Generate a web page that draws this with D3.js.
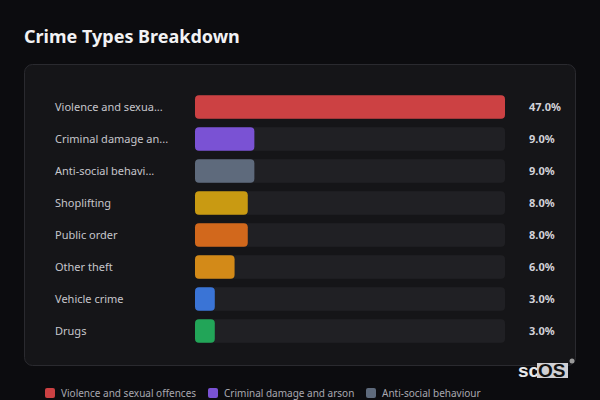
<!DOCTYPE html>
<html>
<head>
<meta charset="utf-8">
<script src="https://cdn.jsdelivr.net/npm/d3@7"></script>
<style>
  html, body { margin: 0; padding: 0; background: #0c0c0f; }
  svg { display: block; }
</style>
</head>
<body>
<svg id="chart" width="600" height="400"></svg>
<script>
const categories = ["Violence and sexual offences", "Criminal damage and arson", "Anti-social behaviour", "Shoplifting", "Public order", "Other theft", "Vehicle crime", "Drugs"];
const shortLabels = ["Violence and sexua...", "Criminal damage an...", "Anti-social behavi...", "Shoplifting", "Public order", "Other theft", "Vehicle crime", "Drugs"];
const values = [47.0, 9.0, 9.0, 8.0, 8.0, 6.0, 3.0, 3.0];
const colors = ["#cc4143", "#7a52d4", "#5e6a7c", "#c99a12", "#d2681c", "#d38a18", "#3a74d6", "#22a558"];
const legendItems = categories.slice(0, 3);

const svg = d3.select("#chart");
const font = "'Noto Sans', 'Open Sans', sans-serif";

svg.append("rect").attr("width", 600).attr("height", 400).attr("fill", "#0c0c0f");

svg.append("text").attr("x", 24).attr("y", 43)
  .attr("font-family", font).attr("font-size", 18).attr("font-weight", 700)
  .attr("fill", "#f2f2f4").text("Crime Types Breakdown");

svg.append("rect").attr("x", 24.5).attr("y", 64.5).attr("width", 551).attr("height", 301)
  .attr("rx", 8).attr("fill", "#151518").attr("stroke", "#2a2a2f");

const x = d3.scaleLinear().domain([0, d3.max(values)]).range([0, 310]);
const y = d3.scaleBand().domain(categories).range([91, 347]).paddingInner(0.27).paddingOuter(0.135);
const x0 = 195;

const rows = svg.append("g").selectAll("g").data(categories).join("g")
  .attr("transform", d => `translate(0,${y(d)})`);

rows.append("rect").attr("x", x0).attr("width", x(d3.max(values))).attr("height", y.bandwidth())
  .attr("rx", 4).attr("fill", "#202024");
rows.append("rect").attr("x", x0).attr("width", (d, i) => x(values[i])).attr("height", y.bandwidth())
  .attr("rx", 4).attr("fill", (d, i) => colors[i]);
rows.append("text").attr("x", 55).attr("y", y.bandwidth() / 2).attr("dy", "0.35em")
  .attr("font-family", font).attr("font-size", 11).attr("fill", "#c6c6cc")
  .text((d, i) => shortLabels[i]);
rows.append("text").attr("x", 529).attr("y", y.bandwidth() / 2).attr("dy", "0.35em")
  .attr("font-family", font).attr("font-size", 11).attr("font-weight", 700).attr("fill", "#d2d2d8")
  .text((d, i) => values[i].toFixed(1) + "%");

// Watermark
const wm = svg.append("g");
wm.append("text").attr("x", 518).attr("y", 377).attr("font-family", "'Liberation Sans', Arial, sans-serif")
  .attr("font-size", 19).attr("font-weight", 700).attr("fill", "#e8e8ea").text("sc");
wm.append("rect").attr("x", 537).attr("y", 363).attr("width", 31).attr("height", 15).attr("fill", "#d0d0d4");
wm.append("text").attr("x", 538).attr("y", 377).attr("font-family", "'Liberation Sans', Arial, sans-serif")
  .attr("font-size", 19).attr("font-weight", 700).attr("fill", "#111").text("OS");
wm.append("circle").attr("cx", 572).attr("cy", 361).attr("r", 2.5).attr("fill", "#999");

// Legend
const legendX = [45, 208, 366];
const lg = svg.append("g").selectAll("g").data(legendItems).join("g")
  .attr("transform", (d, i) => `translate(${legendX[i]},388)`);
lg.append("rect").attr("width", 10).attr("height", 10).attr("rx", 2)
  .attr("fill", (d, i) => colors[i]);
lg.append("text").attr("x", 16).attr("y", 5).attr("dy", "0.35em")
  .attr("font-family", font).attr("font-size", 10).attr("fill", "#a8a8b0").text(d => d);
</script>
</body>
</html>
